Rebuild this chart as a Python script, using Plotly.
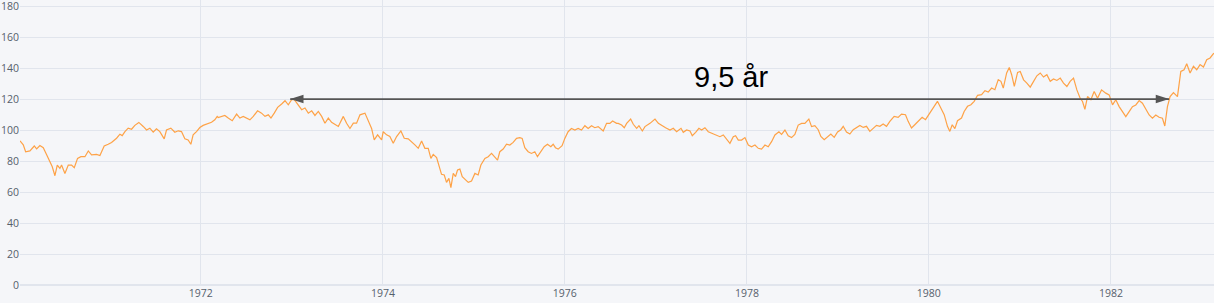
import pandas as pd
import plotly.graph_objects as go

# Time as decimal years
t_years = [
    1970.011, 1970.047, 1970.073, 1970.120, 1970.168, 1970.194, 1970.230, 1970.267, 1970.304, 1970.340,
    1970.366, 1970.395, 1970.421, 1970.450, 1970.468, 1970.505, 1970.542, 1970.578, 1970.608, 1970.644,
    1970.681, 1970.725, 1970.762, 1970.798, 1970.853, 1970.890, 1970.937, 1970.981, 1971.018, 1971.073,
    1971.110, 1971.135, 1971.165, 1971.201, 1971.238, 1971.274, 1971.318, 1971.366, 1971.403, 1971.439,
    1971.476, 1971.512, 1971.549, 1971.597, 1971.622, 1971.670, 1971.714, 1971.751, 1971.787, 1971.824,
    1971.860, 1971.890, 1971.915, 1971.952, 1971.989, 1972.025, 1972.062, 1972.117, 1972.153, 1972.179,
    1972.190, 1972.227, 1972.263, 1972.300, 1972.344, 1972.392, 1972.428, 1972.465, 1972.501, 1972.538,
    1972.575, 1972.622, 1972.666, 1972.703, 1972.740, 1972.769, 1972.805, 1972.842, 1972.886, 1972.923,
    1972.959, 1972.996, 1973.025, 1973.069, 1973.106, 1973.142, 1973.179, 1973.216, 1973.252, 1973.289,
    1973.326, 1973.362, 1973.399, 1973.435, 1973.472, 1973.509, 1973.564, 1973.600, 1973.637, 1973.674,
    1973.710, 1973.747, 1973.802, 1973.838, 1973.875, 1973.904, 1973.941, 1973.985, 1974.003, 1974.040,
    1974.076, 1974.113, 1974.150, 1974.197, 1974.234, 1974.278, 1974.315, 1974.351,
    1974.388, 1974.425, 1974.461, 1974.498, 1974.527, 1974.553, 1974.590, 1974.615, 1974.644, 1974.674,
    1974.699, 1974.725, 1974.747, 1974.773, 1974.798, 1974.820, 1974.846, 1974.872, 1974.901, 1974.938,
    1974.974, 1975.011, 1975.047, 1975.077, 1975.121, 1975.157, 1975.194, 1975.223, 1975.260, 1975.285,
    1975.322, 1975.359, 1975.395, 1975.432, 1975.469, 1975.505, 1975.531, 1975.560, 1975.597, 1975.633,
    1975.670, 1975.699, 1975.736, 1975.773, 1975.809, 1975.846, 1975.872, 1975.897, 1975.927, 1975.970,
    1976.000, 1976.036, 1976.073, 1976.110, 1976.146, 1976.183, 1976.220, 1976.256, 1976.293, 1976.329,
    1976.366, 1976.421, 1976.458, 1976.494, 1976.524, 1976.568,
    1976.586, 1976.623, 1976.652, 1976.678, 1976.722, 1976.751, 1976.788, 1976.813, 1976.850, 1976.879,
    1976.934, 1976.989, 1977.026, 1977.062, 1977.106, 1977.154, 1977.190, 1977.227, 1977.275, 1977.300,
    1977.337, 1977.374, 1977.399, 1977.436, 1977.472, 1977.502, 1977.538, 1977.575, 1977.619, 1977.667,
    1977.703, 1977.740, 1977.777, 1977.813, 1977.850, 1977.875, 1977.905, 1977.941, 1977.978, 1978.015,
    1978.051, 1978.088, 1978.125, 1978.161, 1978.198, 1978.234, 1978.271, 1978.308, 1978.352, 1978.381,
    1978.418, 1978.454, 1978.491, 1978.527, 1978.564, 1978.601, 1978.637, 1978.681, 1978.711, 1978.747,
    1978.784, 1978.813, 1978.850, 1978.887, 1978.923, 1978.960, 1978.997, 1979.033, 1979.059, 1979.095,
    1979.132, 1979.169, 1979.205, 1979.242, 1979.279, 1979.315, 1979.352, 1979.388, 1979.425, 1979.462,
    1979.498, 1979.535, 1979.572, 1979.619, 1979.663, 1979.700, 1979.744, 1979.773, 1979.810, 1979.846,
    1979.883, 1979.927, 1979.964, 1980.000, 1980.048, 1980.095, 1980.132, 1980.169, 1980.205, 1980.231,
    1980.257, 1980.286, 1980.315, 1980.359, 1980.388, 1980.425, 1980.462, 1980.498, 1980.535, 1980.579,
    1980.616, 1980.652, 1980.689, 1980.725, 1980.762, 1980.791, 1980.817, 1980.854, 1980.883, 1980.909,
    1980.938,
    1980.974, 1981.003, 1981.040, 1981.076, 1981.113, 1981.150, 1981.186, 1981.223, 1981.259, 1981.296,
    1981.333, 1981.369, 1981.406, 1981.443, 1981.479, 1981.516, 1981.552, 1981.589, 1981.626, 1981.662,
    1981.688, 1981.714, 1981.743, 1981.780, 1981.816, 1981.853, 1981.897, 1981.944, 1981.981, 1982.018,
    1982.054, 1982.091, 1982.128, 1982.164, 1982.201, 1982.237, 1982.274, 1982.311, 1982.347, 1982.384,
    1982.421, 1982.457, 1982.494, 1982.530, 1982.567, 1982.593, 1982.622, 1982.651, 1982.688, 1982.732,
    1982.769, 1982.805, 1982.834, 1982.871, 1982.908, 1982.944, 1982.981, 1983.018, 1983.054, 1983.091,
    1983.128, 1983.134,
]

index_values = [
    93, 90.4, 86, 86.5, 89.7, 87.8, 90, 88.6, 84, 79,
    76.3, 70.5, 77.4, 75.2, 77.4, 72, 77.4, 77.4, 75.7, 81.7,
    82.8, 82.8, 86.5, 84, 84.3, 83.5, 89.7, 90.8, 92, 94.7,
    97.3, 96.4, 99, 101.2, 100.5, 103, 104.9, 102.3, 100, 101.2,
    98.6, 100.8, 99, 94.3, 100, 101.2, 98.6, 99.5, 99, 94.3,
    93.6, 90.8, 96.9, 99, 101.6, 103, 103.8, 105, 106.6, 108.8,
    108.1, 108.8, 109.4, 107.7, 106, 110.3, 107.7, 108.8, 107.7, 106.6,
    108.8, 112.4, 110.9, 108.8, 109.8, 107.7, 110.9, 114.6, 116.8, 118.9,
    116.3, 119.6, 119.6, 116.3, 113.1, 114.2, 110.9, 112.4, 109.4, 112,
    108.8, 104.4, 107.7, 105, 103.8, 102.3, 108.8, 104.4, 101, 104.4,
    104.4, 109.8, 110.9, 105.5, 101, 93.6, 96.9, 93.6, 98.9, 96.9,
    95.8, 91.5, 95.8, 99.4, 94.7, 94.3, 92.5, 90.4,
    88.2, 92.9, 88.2, 88.2, 81.7, 84.3, 82.2, 76.3, 71.4, 71,
    66.2, 68.8, 62.8, 72, 69.9, 74.2, 74.8, 69.9, 68.4, 66.2,
    67.1, 72, 71, 77.4, 81.7, 82.8, 84.9, 82.8, 80.6, 86,
    87.7, 90.8, 90.3, 92, 94.6, 95.1, 94.6, 88.6, 86, 84.9,
    86, 82.8, 86, 89.2, 90.8, 89.2, 90.8, 88.6, 87.7, 89.9,
    94.6, 98.9, 101, 100, 101, 100, 102.8, 101, 102.8, 101.5,
    102.2, 99.4, 104.3, 104.3, 105.8, 104.3,
    104.3, 103.2, 101.5, 104.3, 107.1, 103.7, 101.1, 102.8, 99.4, 102.2,
    104.3, 107.1, 104.3, 102.8, 101.5, 100, 101.1, 98.9, 101.1, 98.5,
    100, 99.4, 96.3, 98.5, 101.1, 100, 101.5, 98.9, 97.8, 96.8,
    95.7, 96.8, 94.2, 91.4, 95.7, 96.3, 93.5, 93.5, 95.1, 90.3,
    89.2, 90.3, 88.2, 87.7, 90.3, 89.2, 92.5, 96.8, 98.9, 97.2,
    100, 96.3, 95.1, 97.2, 103.2, 104.3, 104.3, 107.1, 102.2, 102.8,
    100.2, 95.9, 93.8, 95.9, 97.4, 95.3, 98.7, 100.2, 102.4, 98.7,
    97.4, 100.2, 101.7, 103, 101.7, 102.4, 99.1, 100.9, 103, 102.4,
    103.9, 102.4, 105.6, 108.8, 108.2, 110.3, 109.9, 105.6, 101.3, 103.4,
    105.6, 108.2, 106.7, 109.9, 114.6, 118.5, 114.2, 109.9, 102.4, 99.1,
    103.4, 100.9, 106, 107.7, 112, 115.3, 116.3, 118.5, 122.4, 122.8,
    125.4, 124.5, 127.1, 126, 132.5, 131.4, 127.1, 136.8, 140.4, 135.7,
    128.2,
    137.2, 137.8, 132.4, 130.3, 127.7, 131.4, 135, 136.8, 134.2, 135.7,
    131.4, 132.9, 132, 133.5, 130.3, 128.1, 131.4, 133.5, 125.9, 120.5,
    118.4, 113.4, 121.6, 119.5, 124.9, 120.5, 125.9, 123.8, 122.7, 116.2,
    119.5, 115.1, 111.9, 108.6, 111.9, 115.1, 116.2, 119, 117.3, 113,
    109.7, 107.6, 109.7, 108.2, 107.6, 102.6, 115.1, 121.6, 124.2, 121.6,
    137.8, 138.9, 142.8, 136.8, 141.1, 138.9, 142.2, 140.6, 145.4, 146.5,
    149.3, 149,
]

# Annotation: peak-to-recovery span
span_years = [1972.98, 1982.64]
span_level = [120, 120]
span_label = "9,5 år"
label_year = 1977.83
label_level = 134

y_ticks = [0, 20, 40, 60, 80, 100, 120, 140, 160, 180]
y_range = [0, 183.9]


def to_date(y):
    yr = int(y)
    start = pd.Timestamp(year=yr, month=1, day=1)
    end = pd.Timestamp(year=yr + 1, month=1, day=1)
    return start + (end - start) * (y - yr)


dates = [to_date(y) for y in t_years]
span_dates = [to_date(y) for y in span_years]

BG = "#F5F6F9"
GRID = "#E1E5ED"
TXT = "#55606C"

fig = go.Figure()
fig.add_trace(go.Scatter(
    x=dates, y=index_values, mode="lines",
    line=dict(color="rgba(255,153,51,0.9)", width=1.2),
    showlegend=False, hoverinfo="x+y",
))
fig.add_trace(go.Scatter(
    x=span_dates, y=span_level, mode="lines+markers",
    line=dict(color="#555555", width=1.8),
    marker=dict(symbol="arrow", size=14, angle=[-90, 90], angleref="up",
                color="#555555"),
    showlegend=False, hoverinfo="skip",
))

fig.add_annotation(
    x=to_date(label_year), y=label_level, text=span_label, showarrow=False,
    font=dict(family="Liberation Sans, Arial, sans-serif", size=29, color="#000000"),
    xanchor="center", yanchor="middle",
)

fig.update_layout(
    width=1214, height=303,
    margin=dict(l=20, r=0, t=0, b=18),
    paper_bgcolor=BG, plot_bgcolor=BG,
    font=dict(family="Open Sans, sans-serif", size=10.5, color=TXT),
    showlegend=False,
)
fig.update_xaxes(
    type="date", range=[dates[0], dates[-1]],
    tick0="1972-01-01", dtick="M24", tickformat="%Y",
    showgrid=True, gridcolor=GRID, gridwidth=1,
    zeroline=False, showline=False, ticks="",
    tickfont=dict(size=10.5, color=TXT),
)
fig.update_yaxes(
    range=y_range, tickvals=y_ticks,
    showgrid=True, gridcolor=GRID, gridwidth=1,
    zeroline=True, zerolinecolor=GRID, zerolinewidth=2,
    showline=False, ticks="", ticklabeloverflow="allow",
    tickfont=dict(size=10.5, color=TXT),
)

fig.write_html("out.html")
